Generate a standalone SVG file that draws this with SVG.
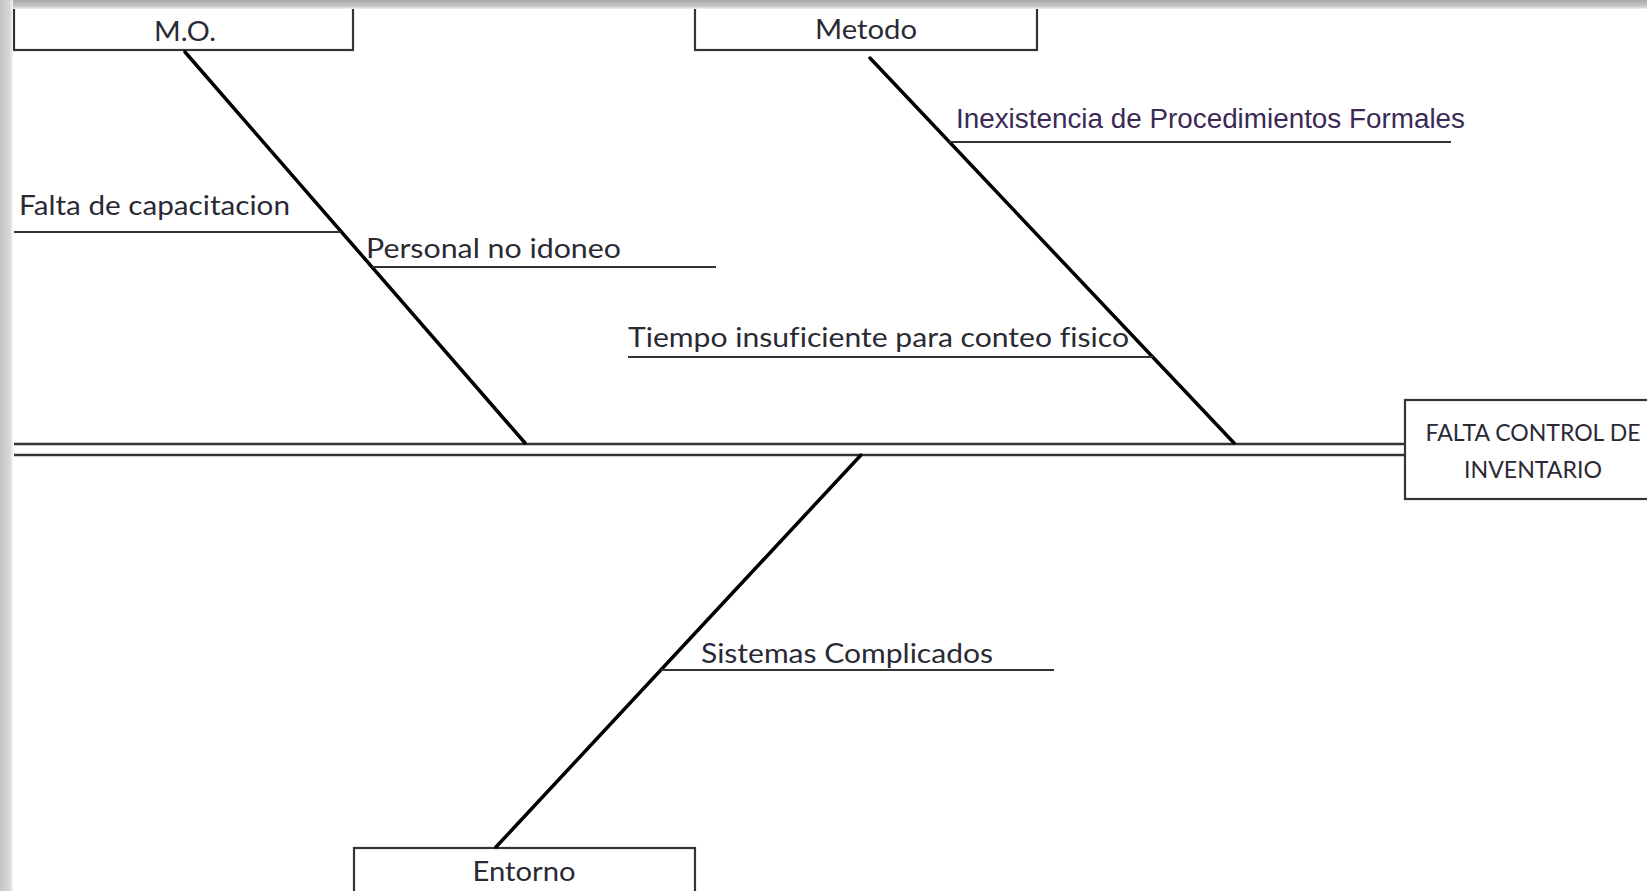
<svg xmlns="http://www.w3.org/2000/svg" width="1647" height="891" viewBox="0 0 1647 891">
<defs>
<linearGradient id="gTop" x1="0" y1="0" x2="0" y2="1">
<stop offset="0" stop-color="#a8a8a8"/><stop offset="0.7" stop-color="#c8c8c8"/><stop offset="1" stop-color="#f2f2f4"/>
</linearGradient>
<linearGradient id="gLeft" x1="0" y1="0" x2="1" y2="0">
<stop offset="0" stop-color="#c4c4c4"/><stop offset="0.75" stop-color="#d8d8d8"/><stop offset="1" stop-color="#f4f4f4"/>
</linearGradient>
<style>
.box{fill:#fff;stroke:#333;stroke-width:2.2}
.bone{stroke:#000;stroke-width:3.5;fill:none;stroke-linecap:round}
.sub{stroke:#333;stroke-width:2.2;fill:none}
.spine{stroke:#333;stroke-width:2.4;fill:none}
.t{font-family:Lato,"Open Sans",sans-serif;fill:#2a2a35;font-variant-ligatures:none;font-feature-settings:"liga" 0}
.lbl{font-size:27px}
.hd{font-size:27px;text-anchor:middle}
.tg{font-size:23px;text-anchor:middle}
.ar{font-family:"Liberation Sans",Arial,sans-serif;font-size:27px;fill:#3a2a55}
</style>
</defs>
<rect width="1647" height="891" fill="#fff"/>

<g id="mo">
<rect class="box" x="14" y="-4" width="339" height="54"/>
<text class="t hd" x="185" y="41" textLength="62" lengthAdjust="spacingAndGlyphs">M.O.</text>
</g>
<g id="metodo">
<rect class="box" x="695" y="-4" width="342" height="54"/>
<text class="t hd" x="866" y="39" textLength="102" lengthAdjust="spacingAndGlyphs">Metodo</text>
</g>
<g id="entorno">
<rect class="box" x="354" y="848" width="341" height="50"/>
<text class="t hd" x="524" y="881" textLength="103" lengthAdjust="spacingAndGlyphs">Entorno</text>
</g>
<g id="efecto">
<rect class="box" x="1405" y="400" width="260" height="99"/>
<text class="t tg" x="1533" y="441" textLength="215" lengthAdjust="spacingAndGlyphs">FALTA CONTROL DE</text>
<text class="t tg" x="1533" y="478" textLength="138" lengthAdjust="spacingAndGlyphs">INVENTARIO</text>
</g>

<g id="connectors">
<line class="spine" x1="14" y1="444" x2="1405" y2="444"/>
<line class="spine" x1="14" y1="455" x2="1405" y2="455"/>
<line class="bone" x1="185" y1="52" x2="525" y2="443"/>
<line class="bone" x1="870" y1="58" x2="1234" y2="443"/>
<line class="bone" x1="861" y1="455" x2="496" y2="847"/>
<line class="sub" x1="14" y1="232" x2="341" y2="232"/>
<line class="sub" x1="372" y1="267" x2="716" y2="267"/>
<line class="sub" x1="949" y1="142" x2="1451" y2="142"/>
<line class="sub" x1="628" y1="357" x2="1153" y2="357"/>
<line class="sub" x1="661" y1="670" x2="1054" y2="670"/>
</g>

<g id="causas">
<text class="t lbl" x="19" y="215" textLength="271" lengthAdjust="spacingAndGlyphs">Falta de capacitacion</text>
<text class="t lbl" x="366" y="258" textLength="255" lengthAdjust="spacingAndGlyphs">Personal no idoneo</text>
<text class="ar" x="956" y="128" textLength="509" lengthAdjust="spacingAndGlyphs">Inexistencia de Procedimientos Formales</text>
<text class="t lbl" x="628" y="347" textLength="501" lengthAdjust="spacingAndGlyphs">Tiempo insuficiente para conteo fisico</text>
<text class="t lbl" x="701" y="663" textLength="292" lengthAdjust="spacingAndGlyphs">Sistemas Complicados</text>
</g>

<rect x="0" y="0" width="1647" height="9" fill="url(#gTop)"/>
<rect x="0" y="0" width="13" height="891" fill="url(#gLeft)"/>
</svg>
